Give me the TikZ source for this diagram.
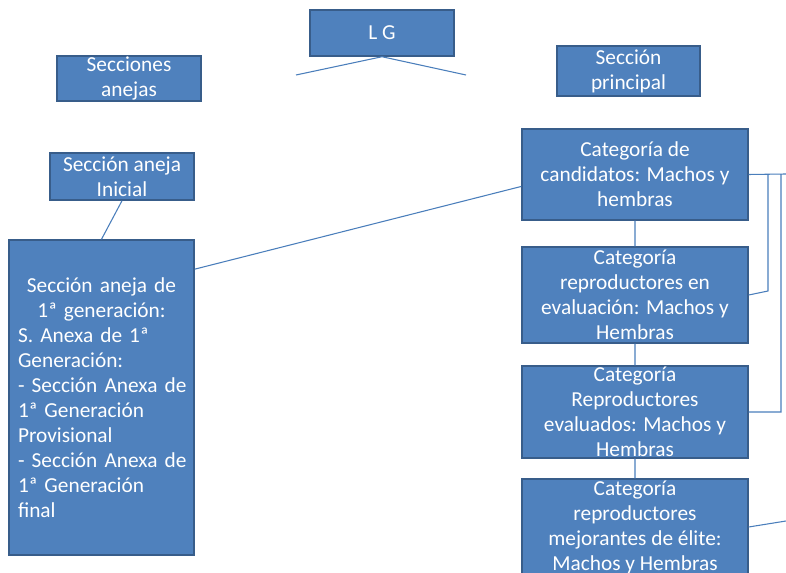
\documentclass[tikz,border=0pt]{standalone}
\usepackage{fontspec}
\setmainfont{Carlito}
\definecolor{cajafondo}{RGB}{79,129,189}
\definecolor{cajaborde}{RGB}{56,93,138}
\definecolor{linea}{RGB}{74,126,187}

\begin{document}
\begin{tikzpicture}[x=0.75pt,y=-0.75pt,
	caja/.style={draw=cajaborde,fill=cajafondo,line width=1.1pt,text=white,align=center,
		inner xsep=2pt,inner ysep=0pt,font=\fontsize{16}{18.75}\selectfont},
	enlace/.style={draw=linea,line width=0.8pt}]
	\useasboundingbox (0,0) rectangle (786,573);
	\node[caja,minimum width=108pt,minimum height=34.5pt](lg) at (382,33) {L G};
	\node[caja,minimum width=108pt,minimum height=33.75pt](anejas) at (129,78.5) {Secciones\\anejas};
	\node[caja,minimum width=107.25pt,minimum height=37.5pt](principal) at (628.5,71) {Sección\\principal};
	\node[caja,minimum width=108pt,minimum height=35.25pt](ini) at (122,176.5) {Sección aneja\\Inicial};
	\node[caja,minimum width=138.75pt,minimum height=236.25pt,inner xsep=6.75pt,text width=125.25pt,align=left](gen) at (101.5,397.5)
		{{\centering Sección aneja de\\1ª generación:\par}S. Anexa de 1ª\\Generación:\\\mbox{- Sección Anexa de}\\1ª Generación\\Provisional\\\mbox{- Sección Anexa de}\\1ª Generación\\final};
	\node[caja,minimum width=169.5pt,minimum height=68.25pt](cand) at (635,174.5) {Categoría de\\candidatos: Machos y\\hembras};
	\node[caja,minimum width=169.5pt,minimum height=72pt](eval) at (635,295) {Categoría\\reproductores en\\evaluación: Machos y\\Hembras};
	\node[caja,minimum width=169.5pt,minimum height=69pt](evd) at (635,412) {Categoría\\Reproductores\\evaluados: Machos y\\Hembras};
	\node[caja,minimum width=169.5pt,minimum height=72pt](elite) at (635,527) {Categoría\\reproductores\\mejorantes de élite:\\Machos y Hembras};
	% puntos libres
	\coordinate (l1) at (296,75);
	\coordinate (l2) at (466,75);
	\coordinate (r0) at (786,174);
	\coordinate (r1) at (768,174);
	\coordinate (r2) at (781,174);
	\coordinate (r3) at (768,291);
	\coordinate (r4) at (786,521);
	\path[enlace]
		(lg.south) -- (l1)
		(lg.south) -- (l2)
		(ini.south) -- (gen.north)
		(gen.54) -- (cand.186)
		(cand.south) -- (eval.north)
		(eval.south) -- (evd.north)
		(evd.south) -- (elite.north)
		(cand.east) -- (r0)
		(eval.east) -- (r3) -- (r1)
		(evd.east) -| (r2)
		(elite.east) -- (r4);
\end{tikzpicture}
\end{document}
